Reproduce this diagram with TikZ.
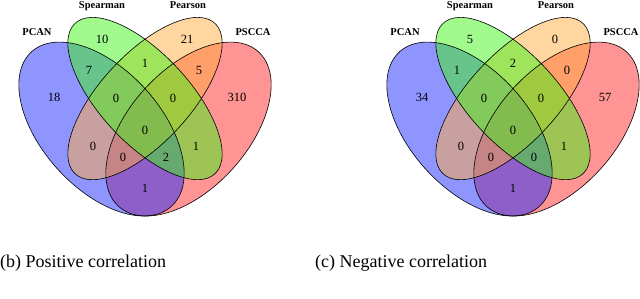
\documentclass[tikz,border=0pt]{standalone}
\usepackage{fontspec}
\setmainfont{Liberation Serif}
\definecolor{cA}{RGB}{31,43,255}
\definecolor{cB}{RGB}{65,245,25}
\definecolor{cC}{RGB}{255,173,65}
\definecolor{cD}{RGB}{255,41,41}
\tikzset{
  num/.style={inner sep=0pt, font=\fontsize{12.5}{14}\selectfont},
  setlab/.style={inner sep=0pt, anchor=base, font=\fontsize{10.5}{12}\selectfont\bfseries},
  capt/.style={inner sep=0pt, anchor=base west, font=\fontsize{18}{20}\selectfont},
  vfill/.style={fill opacity=0.5},
  vline/.style={draw=black, line width=0.6pt},
}
\newcommand\myvenn[1]{%
  \begin{scope}[cm={29,0,0,30.5,(#1pt,-272.4pt)}, x=10pt, y=10pt]
    \fill[cD, vfill, shift={(0.65,0.47)}, rotate=45]  (0,0) ellipse[x radius=0.35, y radius=0.2];
    \fill[cA, vfill, shift={(0.35,0.47)}, rotate=135] (0,0) ellipse[x radius=0.35, y radius=0.2];
    \fill[cC, vfill, shift={(0.5,0.57)},  rotate=45]  (0,0) ellipse[x radius=0.345, y radius=0.15];
    \fill[cB, vfill, shift={(0.5,0.57)},  rotate=135] (0,0) ellipse[x radius=0.345, y radius=0.15];
    \draw[vline, shift={(0.65,0.47)}, rotate=45]  (0,0) ellipse[x radius=0.35, y radius=0.2];
    \draw[vline, shift={(0.35,0.47)}, rotate=135] (0,0) ellipse[x radius=0.35, y radius=0.2];
    \draw[vline, shift={(0.5,0.57)},  rotate=45]  (0,0) ellipse[x radius=0.345, y radius=0.15];
    \draw[vline, shift={(0.5,0.57)},  rotate=135] (0,0) ellipse[x radius=0.345, y radius=0.15];
  \end{scope}}
\begin{document}
\begin{tikzpicture}[x=1pt, y=-1pt]
  \useasboundingbox (0,0) rectangle (640,299);
  \myvenn{0}
  \myvenn{368}
  % set labels
  \node[setlab] (lA) at (37,35.5) {PCAN};
  \node[setlab] (lB) at (102,9) {Spearman};
  \node[setlab] (lC) at (188,9) {Pearson};
  \node[setlab] (lD) at (253,35.5) {PSCCA};
  \node[setlab] (rA) at (405,35.5) {PCAN};
  \node[setlab] (rB) at (470,9) {Spearman};
  \node[setlab] (rC) at (556,9) {Pearson};
  \node[setlab] (rD) at (621,35.5) {PSCCA};
  % numbers, left diagram
  \foreach \n/\x/\y/\v in {A/54/97/18, B/102/39/10, C/187/39/21, D/237/97/310,
      AB/89/70/7, BC/145/63/1, CD/199/70/5, ABC/116/98/0, BCD/173/98/0,
      ABCD/145/130/0, AC/93/146/0, BD/196/146/1, ACD/123/157/0, ABD/166/157/2, AD/145/188/1}
    \node[num] (p\n) at (\x,\y) {\v};
  % numbers, right diagram
  \foreach \n/\x/\y/\v in {A/54/97/34, B/102/39/5, C/187/39/0, D/237/97/57,
      AB/89/70/1, BC/145/63/2, CD/199/70/0, ABC/116/98/0, BCD/173/98/0,
      ABCD/145/130/0, AC/93/146/0, BD/196/146/1, ACD/123/157/0, ABD/166/157/0, AD/145/188/1}
    \node[num] (n\n) at (\x+368,\y) {\v};
  % captions
  \node[capt] (capb) at (0,267) {(b) Positive correlation};
  \node[capt] (capc) at (315,267) {(c) Negative correlation};
\end{tikzpicture}
\end{document}
